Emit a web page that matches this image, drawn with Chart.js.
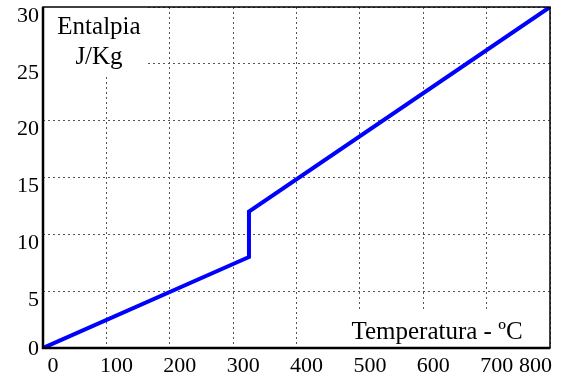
<!DOCTYPE html>
<html>
<head>
<meta charset="utf-8">
<script src="https://cdn.jsdelivr.net/npm/chart.js@4"></script>
<style>
  html, body { margin: 0; padding: 0; background: #fff; }
  #wrap { width: 565px; height: 379px; }
</style>
</head>
<body>
<div id="wrap"><canvas id="chart"></canvas></div>
<script>
// temperature (ºC) vs enthalpy (J/Kg)
const temps = [0, 325, 325, 800];
const enthalpy = [0, 8, 12, 30];
const xTicks = [0, 100, 200, 300, 400, 500, 600, 700, 800];
const yTicks = [0, 5, 10, 15, 20, 25, 30];

const TICK_FONT = '22px "Liberation Serif", "Times New Roman", serif';
const CAP_FONT = '25px "Liberation Serif", "Times New Roman", serif';

// tick labels drawn by hand so they can sit slightly off the grid like the original
const labelPlugin = {
  id: 'labels',
  afterDraw(chart) {
    const ctx = chart.ctx;
    const a = chart.chartArea;
    const xs = chart.scales.x, ys = chart.scales.y;
    ctx.save();

    // white boxes behind the captions
    ctx.fillStyle = '#fff';
    ctx.fillRect(a.left, a.top, 102, 69);
    ctx.fillRect(345, 312, a.right - 345, a.bottom - 312);

    // frame
    ctx.strokeStyle = '#000';
    ctx.lineWidth = 1.5;
    ctx.strokeRect(a.left, a.top, a.right - a.left, a.bottom - a.top);
    ctx.lineWidth = 2.5;
    ctx.beginPath();
    ctx.moveTo(a.left, a.top);
    ctx.lineTo(a.left, a.bottom);
    ctx.lineTo(a.right, a.bottom);
    ctx.stroke();

    ctx.fillStyle = '#000';
    ctx.font = TICK_FONT;
    ctx.textBaseline = 'middle';
    ctx.textAlign = 'center';
    xTicks.forEach(v => {
      const w = ctx.measureText(String(v)).width;
      const x = Math.min(xs.getPixelForValue(v) + 10, a.right + 2 - w / 2);
      ctx.fillText(String(v), x, a.bottom + 18);
    });
    ctx.textAlign = 'right';
    yTicks.forEach(v => {
      const y = Math.min(ys.getPixelForValue(v) + 9, a.bottom + 1);
      ctx.fillText(String(v), a.left - 4, y);
    });

    // axis captions inside the plot
    ctx.font = CAP_FONT;
    ctx.textBaseline = 'alphabetic';
    ctx.textAlign = 'center';
    ctx.fillText('Entalpia', 99, 34);
    ctx.fillText('J/Kg', 99, 64);
    ctx.fillText('Temperatura - ºC', 437, 339);
    ctx.restore();
  }
};

const gridStyle = {
  color: '#555',
  lineWidth: 1,
  drawTicks: false,
  tickLength: 0
};

new Chart(document.getElementById('chart'), {
  type: 'line',
  data: {
    datasets: [{
      data: temps.map((t, i) => ({ x: t, y: enthalpy[i] })),
      borderColor: '#0000ff',
      borderWidth: 4,
      pointRadius: 0,
      fill: false,
      tension: 0
    }]
  },
  options: {
    responsive: true,
    maintainAspectRatio: false,
    animation: false,
    layout: { padding: { left: 43, top: 7, right: 15, bottom: 31 } },
    plugins: { legend: { display: false }, tooltip: { enabled: false } },
    scales: {
      x: {
        type: 'linear',
        min: 0, max: 800,
        afterBuildTicks: s => { s.ticks = xTicks.map(v => ({ value: v })); },
        ticks: { display: false },
        grid: Object.assign({}, gridStyle),
        border: { display: false, dash: [2, 3] }
      },
      y: {
        type: 'linear',
        min: 0, max: 30,
        afterBuildTicks: s => { s.ticks = yTicks.map(v => ({ value: v })); },
        ticks: { display: false },
        grid: Object.assign({}, gridStyle),
        border: { display: false, dash: [2, 3] }
      }
    }
  },
  plugins: [labelPlugin]
});
</script>
</body>
</html>
